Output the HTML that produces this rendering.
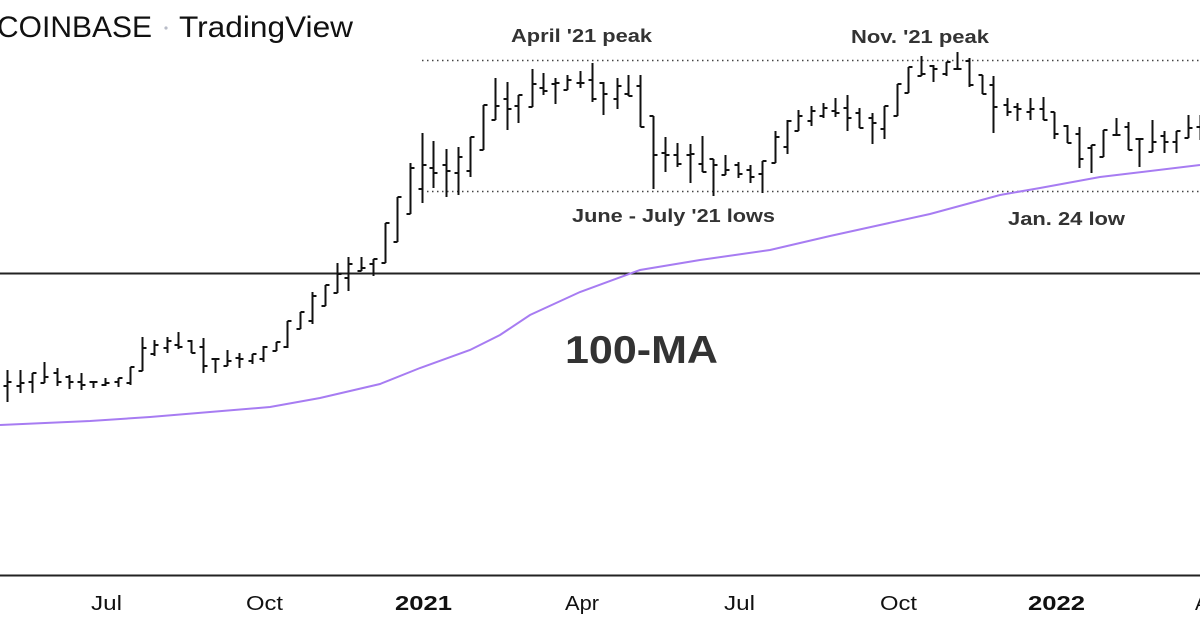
<!DOCTYPE html>
<html><head><meta charset="utf-8"><style>
html,body{margin:0;padding:0;background:#fff;width:1200px;height:628px;overflow:hidden}
svg{display:block}
text{font-family:"Liberation Sans",sans-serif}
</style></head><body>
<svg id="s" width="1200" height="628" viewBox="0 0 1200 628" xmlns="http://www.w3.org/2000/svg">
<text x="-3" y="37" font-size="30" fill="#111" textLength="155" lengthAdjust="spacingAndGlyphs">COINBASE</text>
<circle cx="166" cy="28" r="1.6" fill="#b8bcc8"/>
<text x="179" y="37" font-size="30" fill="#111" textLength="174" lengthAdjust="spacingAndGlyphs">TradingView</text>
<line x1="422" y1="60.5" x2="1200" y2="60.5" stroke="#444" stroke-width="1.5" stroke-dasharray="1.5,3.5"/>
<line x1="422" y1="191.5" x2="1200" y2="191.5" stroke="#444" stroke-width="1.5" stroke-dasharray="1.5,3.5"/>
<line x1="0" y1="273.5" x2="1200" y2="273.5" stroke="#222" stroke-width="2"/>
<line x1="0" y1="575.5" x2="1200" y2="575.5" stroke="#222" stroke-width="2"/>
<polyline fill="none" stroke="#a77cf2" stroke-width="2" points="0,425 90,421 150,417 270,407 320,398 380,384 420,368 470,350 500,335 530,315 580,292 640,270 700,260 770,250 830,236 880,225 930,214 1000,195 1040,188 1100,177 1200,165"/>
<g id="bars" stroke="#111" stroke-width="2" fill="none"></g>
<g font-size="18" font-weight="bold" fill="#333">
<text x="511" y="42" textLength="141" lengthAdjust="spacingAndGlyphs">April '21 peak</text>
<text x="851" y="43" textLength="138" lengthAdjust="spacingAndGlyphs">Nov. '21 peak</text>
<text x="572" y="222" textLength="203" lengthAdjust="spacingAndGlyphs">June - July '21 lows</text>
<text x="1008" y="225" textLength="117" lengthAdjust="spacingAndGlyphs">Jan. 24 low</text>
</g>
<text x="565" y="363" font-size="39" font-weight="bold" fill="#333" textLength="153" lengthAdjust="spacingAndGlyphs">100-MA</text>
<g font-size="20" fill="#111">
<text x="91" y="610" textLength="31" lengthAdjust="spacingAndGlyphs">Jul</text>
<text x="246" y="610" textLength="37" lengthAdjust="spacingAndGlyphs">Oct</text>
<text x="395" y="610" font-weight="bold" textLength="57" lengthAdjust="spacingAndGlyphs">2021</text>
<text x="565" y="610" textLength="34" lengthAdjust="spacingAndGlyphs">Apr</text>
<text x="724" y="610" textLength="31" lengthAdjust="spacingAndGlyphs">Jul</text>
<text x="880" y="610" textLength="37" lengthAdjust="spacingAndGlyphs">Oct</text>
<text x="1028" y="610" font-weight="bold" textLength="57" lengthAdjust="spacingAndGlyphs">2022</text>
<text x="1195" y="610">A</text>
</g>
</svg>
<script>
var d=[[7,370,402],[20,370,393],[32,373,393],[44,362,383],[57,368,386],[69,375,389],[81,373,390],[93,382,388],[105,378,386],[118,378,387],[130,367,385],[142,337,371],[154,340,356],[167,337,353],[178,332,349],[191,340,353],[203,338,373],[215,359,373],[227,350,366],[239,353,368],[252,354,364],[263,346,362],[276,342,351],[287,321,348],[300,312,329],[312,292,324],[325,285,306],[337,263,293],[348,257,291],[361,257,271],[373,259,276],[385,223,263],[397,197,242],[410,163,214],[422,133,203],[433,141,188],[446,149,197],[458,147,195],[470,137,177],[483,105,150],[495,78,120],[507,82,130],[518,95,123],[532,69,107],[543,73,95],[555,78,104],[567,75,90],[580,71,88],[592,63,102],[603,82,115],[617,78,109],[628,75,96],[640,75,127],[653,116,189],[665,137,172],[677,143,167],[690,144,183],[702,136,172],[713,159,196],[725,155,175],[738,162,178],[750,165,183],[762,161,193],[775,131,163],[787,120,154],[798,110,131],[811,106,126],[823,103,118],[835,98,117],[847,95,131],[859,108,128],[872,113,144],[884,106,139],[897,84,116],[908,67,93],[921,56,76],[933,65,82],[946,62,76],[957,52,69],[969,58,87],[982,75,94],[993,76,133],[1007,98,116],[1017,103,121],[1030,98,120],[1043,97,120],[1054,112,139],[1067,125,143],[1079,127,168],[1091,145,173],[1103,130,157],[1116,118,135],[1128,122,150],[1139,139,167],[1152,120,152],[1164,131,153],[1176,131,153],[1188,115,138],[1200,115,140]];
var p="";
for(var i=0;i<d.length;i++){var x=d[i][0]+0.5,h=d[i][1],l=d[i][2];var n=d[i+1],pv=d[i-1];
var o=pv?Math.min(l,Math.max(h,(pv[1]+pv[2])/2)):(h+l)/2;var c=n?Math.min(l,Math.max(h,(n[1]+n[2])/2)):(h+l)/2;
o=Math.round(o);c=Math.round(c);
p+="M"+x+" "+h+"V"+l+"M"+(x-4)+" "+o+"H"+x+"M"+x+" "+c+"H"+(x+4);}
var e=document.createElementNS("http://www.w3.org/2000/svg","path");e.setAttribute("d",p);document.getElementById("bars").appendChild(e);
</script>
</body></html>
